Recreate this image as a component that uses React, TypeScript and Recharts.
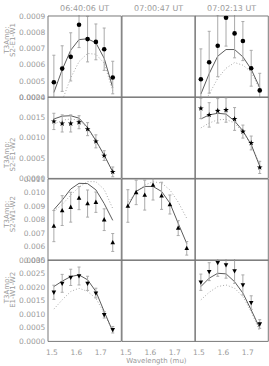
import React from "react";
import { ComposedChart, Line, Scatter, ErrorBar, XAxis, YAxis } from "recharts";

// ── labels ────────────────────────────────────────────────────────────────
const timeLabels = ["06:40:06 UT", "07:00:47 UT", "07:02:13 UT"];
const tripleLabels = ["S2-E1-W1", "S2-E1-W2", "S2-W1-W2", "E1-W1-W2"];

// ── axes ──────────────────────────────────────────────────────────────────
const wavelengths = [1.508, 1.542, 1.577, 1.611, 1.646, 1.68, 1.714, 1.749];
const xTicks = [1.5, 1.6, 1.7];
const e1w1Ticks = [0.0004, 0.0005, 0.0006, 0.0007, 0.0008, 0.0009];
const e1w2Ticks = [0, 0.0005, 0.001, 0.0015, 0.002];
const w1w2Ticks = [0.005, 0.006, 0.007, 0.008, 0.009, 0.01, 0.011];
const ew1w2Ticks = [0, 0.0005, 0.001, 0.0015, 0.002, 0.0025, 0.003];

// ── S2-E1-W1 ──────────────────────────────────────────────────────────────
const s2e1w1At0640 = [0.000493, 0.000577, 0.000649, 0.000846, 0.000758, 0.000741, 0.000696, 0.000522];
const s2e1w1At0640Err = [0.000166, 0.00014, 0.000148, 0.00014, 0.00014, 0.00011, 0.00013, 0.0001];
const s2e1w1At0640Fit = [0.00043, 0.00057, 0.00069, 0.000755, 0.00076, 0.000735, 0.00064, 0.00046];
const s2e1w1At0640Alt = [0.00025, 0.00038, 0.00052, 0.00062, 0.00067, 0.000665, 0.00061, 0.00044];

const s2e1w1At0702 = [0.000511, 0.000616, 0.000717, 0.00089, 0.000793, 0.000746, 0.000579, 0.000443];
const s2e1w1At0702Err = [0.000187, 0.00019, 0.00019, 0.000175, 0.00015, 0.00012, 0.00011, 0.000105];
const s2e1w1At0702Fit = [0.00042, 0.000546, 0.000653, 0.000694, 0.000694, 0.000649, 0.000573, 0.00046];
const s2e1w1At0702Alt = [0.00033, 0.00042, 0.000517, 0.000579, 0.000614, 0.000598, 0.000556, 0.00045];

// ── S2-E1-W2 ──────────────────────────────────────────────────────────────
const s2e1w2At0640 = [0.0014, 0.00135, 0.00135, 0.00138, 0.00121, 0.00091, 0.00056, 0.00016];
const s2e1w2At0640Err = [0.0002, 0.00021, 0.00021, 0.00016, 0.00016, 0.00016, 0.00012, 0.00012];
const s2e1w2At0640Fit = [0.00146, 0.00153, 0.00154, 0.00148, 0.00125, 0.00093, 0.00057, 0.00016];
const s2e1w2At0640Alt = [0.00133, 0.00143, 0.00146, 0.00143, 0.00122, 0.00091, 0.00056, 0.00016];

const s2e1w2At0702 = [0.00172, 0.00156, 0.00166, 0.00168, 0.00146, 0.00115, 0.00087, 0.00027];
const s2e1w2At0702Err = [0.00025, 0.0003, 0.0003, 0.0003, 0.00028, 0.00016, 0.00017, 0.00015];
const s2e1w2At0702Fit = [0.00146, 0.00156, 0.0016, 0.00158, 0.00141, 0.00117, 0.00083, 0.0003];
const s2e1w2At0702Alt = [0.00124, 0.00136, 0.00144, 0.00145, 0.00136, 0.00113, 0.00083, 0.00034];

// ── S2-W1-W2 ──────────────────────────────────────────────────────────────
const s2w1w2At0640 = [0.00753, 0.00867, 0.00892, 0.00959, 0.00919, 0.00929, 0.008, 0.00632];
const s2w1w2At0640Err = [0.00115, 0.0011, 0.0011, 0.00085, 0.001, 0.00075, 0.0008, 0.00066];
const s2w1w2At0640Fit = [0.00874, 0.00944, 0.01026, 0.01068, 0.01066, 0.0102, 0.00919, 0.00795];
const s2w1w2At0640Alt = [0.00863, 0.00912, 0.00981, 0.0104, 0.01081, 0.0108, 0.01023, 0.00882];

const s2w1w2At0700 = [0.00901, 0.01001, 0.00981, 0.01055, 0.00976, 0.00912, 0.00738, 0.00589];
const s2w1w2At0700Err = [0.0012, 0.0009, 0.0011, 0.0011, 0.001, 0.0007, 0.00055, 0.0005];
const s2w1w2At0700Fit = [0.009, 0.0101, 0.01045, 0.01045, 0.01008, 0.00922, 0.00773, 0.00624];
const s2w1w2At0700Alt = [0.0093, 0.01, 0.01055, 0.0108, 0.0107, 0.0102, 0.0093, 0.0081];

// ── E1-W1-W2 ──────────────────────────────────────────────────────────────
const e1w1w2At0640 = [0.00181, 0.00214, 0.00236, 0.00241, 0.00214, 0.00178, 0.00098, 0.00043];
const e1w1w2At0640Err = [0.00026, 0.00033, 0.0003, 0.00033, 0.00026, 0.00018, 0.00012, 0.00012];
const e1w1w2At0640Fit = [0.00202, 0.00222, 0.00239, 0.00245, 0.00227, 0.00184, 0.0011, 0.00037];
const e1w1w2At0640Alt = [0.00119, 0.00153, 0.00184, 0.00196, 0.00184, 0.00159, 0.00104, 0.00037];

const e1w1w2At0702 = [0.00218, 0.00257, 0.0029, 0.00282, 0.0026, 0.00208, 0.00143, 0.00064];
const e1w1w2At0702Err = [0.0003, 0.00033, 0.0005, 0.00049, 0.00046, 0.00037, 0.00025, 0.00016];
const e1w1w2At0702Fit = [0.00202, 0.00233, 0.00251, 0.00249, 0.0022, 0.00178, 0.00116, 0.00049];
const e1w1w2At0702Alt = [0.00153, 0.00181, 0.00202, 0.00208, 0.00196, 0.00165, 0.0011, 0.00037];

interface Series { obs: number[]; err: number[]; fit: number[]; alt: number[] }

// grid of panels: [row][col], null = no data for that triangle/time
const panels: (Series | null)[][] = [
  [{ obs: s2e1w1At0640, err: s2e1w1At0640Err, fit: s2e1w1At0640Fit, alt: s2e1w1At0640Alt }, null,
   { obs: s2e1w1At0702, err: s2e1w1At0702Err, fit: s2e1w1At0702Fit, alt: s2e1w1At0702Alt }],
  [{ obs: s2e1w2At0640, err: s2e1w2At0640Err, fit: s2e1w2At0640Fit, alt: s2e1w2At0640Alt }, null,
   { obs: s2e1w2At0702, err: s2e1w2At0702Err, fit: s2e1w2At0702Fit, alt: s2e1w2At0702Alt }],
  [{ obs: s2w1w2At0640, err: s2w1w2At0640Err, fit: s2w1w2At0640Fit, alt: s2w1w2At0640Alt },
   { obs: s2w1w2At0700, err: s2w1w2At0700Err, fit: s2w1w2At0700Fit, alt: s2w1w2At0700Alt }, null],
  [{ obs: e1w1w2At0640, err: e1w1w2At0640Err, fit: e1w1w2At0640Fit, alt: e1w1w2At0640Alt }, null,
   { obs: e1w1w2At0702, err: e1w1w2At0702Err, fit: e1w1w2At0702Fit, alt: e1w1w2At0702Alt }],
];

const rowTicks = [e1w1Ticks, e1w2Ticks, w1w2Ticks, ew1w2Ticks];
const rowMinor = [0.00002, 0.0001, 0.0002, 0.0001];
const rowDigits = [4, 4, 3, 4];
const rowMarkers = ["circle", "star", "up", "down"];
const rowLabelCenters = [40, 155, 214, 290];

// ── layout ────────────────────────────────────────────────────────────────
const PX = 48.3;
const PW = 73.3;
const PY = 16;
const PH = 81.4;
const BOTTOM_H = 366 - (PY + 4 * PH);
const X_DOMAIN = [1.484, 1.784];
const TEXT = "#9a9a9a";
const FRAME = "#777";
const TICK_FONT = { fontSize: 7.5, fill: TEXT };

function steps(a: number, b: number, s: number) {
  const out: number[] = [];
  const n = Math.round((b - a) / s);
  for (let i = 0; i <= n; i++) out.push(+(a + i * s).toFixed(6));
  return out;
}

const xMinor = steps(1.49, 1.78, 0.01);

function yDomainOf(row: number) {
  const t = rowTicks[row];
  return [t[0], t[t.length - 1]];
}

function markerShape(kind: string) {
  return (p: any) => {
    const { cx, cy } = p;
    if (cx == null || cy == null) return <g />;
    if (kind === "circle") return <circle cx={cx} cy={cy} r={2.3} fill="#000" />;
    if (kind === "star") {
      const pts: string[] = [];
      for (let i = 0; i < 10; i++) {
        const r = i % 2 ? 1.2 : 3;
        const a = -Math.PI / 2 + (i * Math.PI) / 5;
        pts.push(`${cx + r * Math.cos(a)},${cy + r * Math.sin(a)}`);
      }
      return <polygon points={pts.join(" ")} fill="#000" />;
    }
    const s = kind === "up" ? 1 : -1;
    return (
      <polygon
        points={`${cx},${cy - 2.6 * s} ${cx - 2.3},${cy + 1.7 * s} ${cx + 2.3},${cy + 1.7 * s}`}
        fill="#000"
      />
    );
  };
}

function Caption({ px, py, caption, size = 8 }: any) {
  return (
    <text x={px} y={py} textAnchor="middle" fontSize={size} fill={TEXT}>
      {caption}
    </text>
  );
}

function RowTitle({ py, caption }: any) {
  return (
    <g fill={TEXT} fontSize={7}>
      <text x={9.5} y={py} textAnchor="middle" transform={`rotate(-90, 9.5, ${py})`}>T3Amp:</text>
      <text x={15.5} y={py} textAnchor="middle" transform={`rotate(-90, 15.5, ${py})`}>{caption}</text>
    </g>
  );
}

// one data panel: frame with inward ticks, two model curves, points with error bars
function Panel({ row, col }: { row: number; col: number }) {
  const set = panels[row][col];
  const ticks = rowTicks[row];
  const yDomain = yDomainOf(row);
  const yMinor = steps(yDomain[0], yDomain[1], rowMinor[row]);

  const obs = set ? wavelengths.map((x, i) => ({ x, y: set.obs[i], err: set.err[i] })) : [];
  const fit = set ? wavelengths.map((x, i) => ({ x, y: set.fit[i] })) : [];
  const alt = set ? wavelengths.map((x, i) => ({ x, y: set.alt[i] })) : [];

  const frameX = (id: string, orientation: "top" | "bottom", t: number[], size: number, line: boolean) => (
    <XAxis key={id} xAxisId={id} dataKey="x" type="number" orientation={orientation} mirror height={0.01}
      domain={X_DOMAIN} allowDataOverflow ticks={t} interval={0} tick={false}
      tickSize={size} tickLine={{ stroke: FRAME }} axisLine={line ? { stroke: FRAME } : false} />
  );
  const frameY = (id: string, orientation: "left" | "right", t: number[], size: number, line: boolean) => (
    <YAxis key={id} yAxisId={id} type="number" orientation={orientation} mirror width={0.01}
      domain={yDomain} allowDataOverflow ticks={t} interval={0} tick={false}
      tickSize={size} tickLine={{ stroke: FRAME }} axisLine={line ? { stroke: FRAME } : false} />
  );

  return (
    <div style={{ position: "absolute", left: PX + col * PW - 1, top: PY + row * PH - 1 }}>
      <ComposedChart width={PW + 2} height={PH + 2} margin={{ top: 1, right: 1, bottom: 1, left: 1 }}>
        <XAxis xAxisId="x" dataKey="x" type="number" domain={X_DOMAIN} allowDataOverflow hide />
        <YAxis yAxisId="y" type="number" domain={yDomain} allowDataOverflow hide />
        {frameX("xb", "bottom", xTicks, 4, true)}
        {frameX("xbm", "bottom", xMinor, 2, false)}
        {frameX("xt", "top", xTicks, 4, true)}
        {frameX("xtm", "top", xMinor, 2, false)}
        {frameY("yl", "left", ticks, 4, true)}
        {frameY("ylm", "left", yMinor, 2, false)}
        {frameY("yr", "right", ticks, 4, true)}
        {frameY("yrm", "right", yMinor, 2, false)}
        {set && (
          <Line xAxisId="x" yAxisId="y" data={alt} dataKey="y" stroke="#a8a8a8" strokeWidth={1}
            strokeDasharray="1 2" dot={false} isAnimationActive={false} />
        )}
        {set && (
          <Line xAxisId="x" yAxisId="y" data={fit} dataKey="y" stroke="#5a5a5a" strokeWidth={1}
            dot={false} isAnimationActive={false} />
        )}
        {set && (
          <Scatter xAxisId="x" yAxisId="y" data={obs} dataKey="y" shape={markerShape(rowMarkers[row])}
            isAnimationActive={false}>
            <ErrorBar dataKey="err" direction="y" width={1.5} stroke="#aaa" strokeWidth={1} />
          </Scatter>
        )}
      </ComposedChart>
    </div>
  );
}

// y tick labels and the rotated triangle name for one row
function RowAxis({ row }: { row: number }) {
  const top = PY + row * PH - 6;
  return (
    <div style={{ position: "absolute", left: 0, top }}>
      <ComposedChart width={PX + 1} height={PH + 12} margin={{ top: 6, right: 0, bottom: 6, left: 0 }}>
        <XAxis xAxisId="x" dataKey="x" type="number" domain={X_DOMAIN} allowDataOverflow hide />
        <YAxis yAxisId="y" type="number" domain={yDomainOf(row)} allowDataOverflow ticks={rowTicks[row]}
          interval={0} width={PX} tickLine={false} axisLine={false} tickSize={0} tickMargin={3}
          tick={TICK_FONT} tickFormatter={(v: number) => v.toFixed(rowDigits[row])}
          label={<RowTitle py={rowLabelCenters[row] - top} caption={tripleLabels[row]} />} />
      </ComposedChart>
    </div>
  );
}

// wavelength tick labels under one column (plot area = the bottom panel, left empty)
function ColAxis({ col }: { col: number }) {
  const left = PX + col * PW - 8;
  const top = PY + 3 * PH;
  return (
    <div style={{ position: "absolute", left, top }}>
      <ComposedChart width={PW + 16} height={PH + BOTTOM_H} margin={{ top: 0, right: 8, bottom: 0, left: 8 }}>
        <YAxis yAxisId="y" type="number" domain={[0, 1]} allowDataOverflow hide />
        <XAxis xAxisId="x" dataKey="x" type="number" domain={X_DOMAIN} allowDataOverflow ticks={xTicks} interval={0}
          height={BOTTOM_H} tickLine={false} axisLine={false} tickSize={0} tickMargin={8.5}
          tick={TICK_FONT} tickFormatter={(v: number) => v.toFixed(1)}
          label={col === 1 ? <Caption px={156 - left} py={363 - top} caption="Wavelength (mu)" size={7} /> : undefined} />
      </ComposedChart>
    </div>
  );
}

// observation time above one column
function ColTitle({ col }: { col: number }) {
  return (
    <div style={{ position: "absolute", left: PX + col * PW, top: 0 }}>
      <ComposedChart width={PW} height={PY + 1} margin={{ top: 0, right: 0, bottom: 0, left: 0 }}>
        <YAxis yAxisId="y" type="number" domain={[0, 1]} allowDataOverflow hide />
        <XAxis xAxisId="x" dataKey="x" type="number" orientation="top" domain={X_DOMAIN} allowDataOverflow
          ticks={xTicks} height={PY} tick={false} tickLine={false} axisLine={false}
          label={<Caption px={PW / 2} py={11} caption={timeLabels[col]} />} />
      </ComposedChart>
    </div>
  );
}

export default function App() {
  const parts: JSX.Element[] = [];
  for (let c = 0; c < 3; c++) parts.push(<ColTitle key={`t${c}`} col={c} />);
  for (let r = 0; r < 4; r++) parts.push(<RowAxis key={`y${r}`} row={r} />);
  for (let c = 0; c < 3; c++) parts.push(<ColAxis key={`x${c}`} col={c} />);
  for (let r = 0; r < 4; r++) for (let c = 0; c < 3; c++) parts.push(<Panel key={`${r}-${c}`} row={r} col={c} />);
  return (
    <div style={{ position: "absolute", left: 0, top: 0, width: 269, height: 366, background: "#fff",
      fontFamily: "'DejaVu Sans', sans-serif" }}>
      {parts}
    </div>
  );
}
